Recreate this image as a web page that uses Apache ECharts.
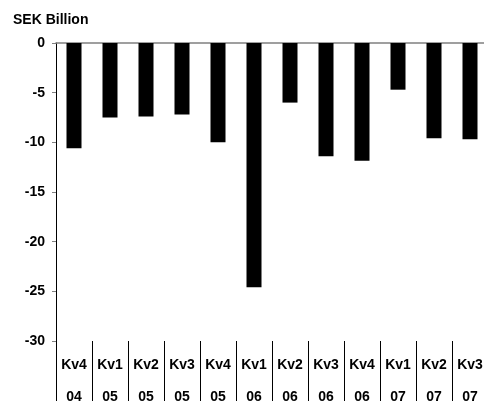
<!DOCTYPE html>
<html>
<head>
<meta charset="utf-8">
<script src="https://cdn.jsdelivr.net/npm/echarts@6/dist/echarts.min.js"></script>
<style>
  html, body { margin: 0; padding: 0; background: #fff; }
  #chart { width: 484px; height: 401px; }
</style>
</head>
<body>
<div id="chart"></div>
<script>
const quarters = ['Kv4', 'Kv1', 'Kv2', 'Kv3', 'Kv4', 'Kv1', 'Kv2', 'Kv3', 'Kv4', 'Kv1', 'Kv2', 'Kv3'];
const years = ['04', '05', '05', '05', '05', '06', '06', '06', '06', '07', '07', '07'];
const values = [-10.6, -7.5, -7.4, -7.2, -10.0, -24.6, -6.0, -11.4, -11.85, -4.7, -9.6, -9.7];
const yTicks = [0, -5, -10, -15, -20, -25, -30];

const categories = quarters.map((q, i) => q + '\n' + years[i]);
const font = 'Arial, "Liberation Sans", sans-serif';

const myChart = echarts.init(document.getElementById('chart'));
myChart.setOption({
  animation: false,
  title: {
    text: 'SEK Billion',
    left: 13,
    top: 13,
    padding: 0,
    textStyle: {fontFamily: font, fontSize: 14, fontWeight: 'bold', color: '#000'}
  },
  grid: {left: 56, top: 43, right: -4, bottom: 60, outerBoundsMode: 'none', containLabel: false},
  xAxis: [{
    type: 'category',
    data: categories,
    position: 'bottom',
    axisLine: {show: false, onZero: false},
    axisTick: {show: true, length: 60, lineStyle: {color: '#000', width: 1}},
    axisLabel: {
      margin: 8,
      interval: 0,
      fontFamily: font,
      fontSize: 14,
      fontWeight: 'bold',
      color: '#000',
      lineHeight: 32
    }
  }, {
    type: 'category',
    data: categories,
    position: 'top',
    axisLine: {show: true, onZero: false, lineStyle: {color: '#808080', width: 1.5}},
    axisTick: {show: false},
    axisLabel: {show: false}
  }],
  yAxis: {
    type: 'value',
    min: yTicks[yTicks.length - 1],
    max: yTicks[0],
    interval: 5,
    splitLine: {show: false},
    axisLine: {show: true, onZero: false, lineStyle: {color: '#000', width: 1}},
    axisTick: {show: true, length: 4, lineStyle: {color: '#808080'}},
    axisLabel: {
      margin: 11,
      fontFamily: font,
      fontSize: 14,
      fontWeight: 'bold',
      color: '#000'
    }
  },
  series: [{
    type: 'bar',
    xAxisIndex: 0,
    data: values,
    barWidth: 15,
    itemStyle: {color: '#000'}
  }]
});
</script>
</body>
</html>
